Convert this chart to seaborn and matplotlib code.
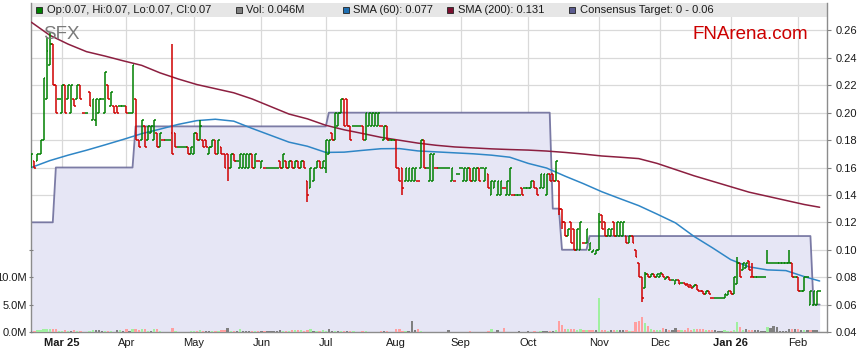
import numpy as np
import pandas as pd
import matplotlib
matplotlib.use("Agg")
import matplotlib.pyplot as plt
from matplotlib.patches import Rectangle
import seaborn as sns

# %% Data
# trading sessions shown: weekdays 17 Feb 2025 - 11 Feb 2026
dates = pd.bdate_range("2025-02-17", "2026-02-11")

# daily open / close, one line per month
opens = [
    .160, .165, .165, .170, .180, .210, .235, .250, .220, .210,
    .200, .220, .210, .200, .210, .210, .220, .200, .200, .215, .195, .195, .200, .210, .200, .220, .205, .205, .205, .205, .205,
    .205, .200, .200, .210, .180, .180, .190, .180, .185, .180, .185, .175, .180, .180, .180, .185, .185, .175, .175, .175, .175, .170,
    .170, .185, .180, .180, .180, .170, .175, .180, .170, .175, .170, .170, .160, .170, .165, .160, .160, .160, .160, .170, .160, .165,
    .160, .160, .160, .160, .160, .160, .165, .160, .165, .160, .165, .160, .165, .160, .165, .150, .145, .150, .160, .165, .160,
    .160, .170, .185, .180, .190, .200, .210, .210, .190, .190, .190, .190, .190, .180, .190, .190, .190, .190, .190, .180, .190, .180, .180,
    .180, .160, .160, .150, .150, .150, .150, .150, .160, .180, .160, .150, .150, .160, .160, .160, .160, .160, .150, .150, .155,
    .160, .150, .150, .160, .150, .150, .160, .160, .150, .155, .140, .145, .140, .140, .145, .140, .140, .140, .140, .140, .145, .145,
    .145, .145, .150, .145, .145, .145, .140, .155, .155, .150, .150, .130, .120, .110, .120, .115, .100, .100, .105, .105, .100, .098, .097,
    .100, .125, .120, .110, .110, .120, .110, .110, .110, .110, .105, .110, .100, .090, .080, .072, .082, .080, .082, .080,
    .080, .082, .079, .080, .078, .075, .078, .076, .076, .075, .074, .073, .074, .070, .070, .068, .070, .065, .065, .065, .065, .065, .067,
    .070, .068, .075, .090, .085, .087, .092, .080, .080, .080, .080, .080, .090, .090, .090, .090, .090, .090, .090, .090, .090, .080,
    .080, .070, .070, .080, .060, .060, .060, .070,
]
closes = [
    .170, .160, .170, .180, .225, .245, .250, .220, .200, .210,
    .220, .200, .220, .220, .205, .220, .210, .200, .200, .205, .210, .210, .210, .210, .230, .210, .215, .200, .200, .205, .205,
    .200, .200, .235, .180, .175, .195, .175, .190, .190, .195, .175, .185, .180, .180, .180, .170, .175, .175, .175, .175, .170, .175,
    .185, .180, .190, .175, .175, .175, .180, .170, .180, .170, .160, .160, .170, .165, .165, .170, .170, .170, .170, .160, .170, .165,
    .165, .160, .160, .160, .160, .160, .160, .170, .160, .165, .160, .165, .160, .165, .160, .140, .160, .160, .165, .160, .165,
    .180, .180, .180, .200, .200, .210, .190, .190, .180, .190, .190, .190, .180, .200, .200, .200, .200, .200, .190, .190, .180, .180, .180,
    .160, .150, .145, .160, .160, .160, .160, .150, .180, .160, .160, .170, .170, .160, .160, .160, .160, .160, .160, .150, .155,
    .160, .160, .160, .150, .160, .160, .150, .160, .160, .145, .150, .150, .150, .150, .145, .150, .160, .140, .140, .140, .140, .145,
    .145, .150, .145, .140, .155, .155, .155, .150, .150, .165, .130, .120, .110, .115, .105, .100, .115, .120, .105, .115, .105, .100, .100,
    .120, .115, .110, .115, .115, .110, .120, .120, .120, .105, .110, .105, .095, .080, .065, .082, .080, .082, .080, .082,
    .083, .080, .080, .078, .078, .078, .075, .076, .074, .073, .072, .074, .071, .070, .068, .070, .068, .065, .065, .065, .065, .068, .070,
    .068, .080, .090, .080, .090, .090, .085, .080, .080, .080, .080, .080, .090, .090, .090, .090, .090, .090, .090, .090, .080, .080,
    .070, .070, .080, .080, .070, .070, .070, .070,
]
# sessions whose high / low reach beyond open and close
high_wicks = {5: .255, 6: .258, 46: .250, 55: .195, 185: .127, 200: .084,
              230: .095, 235: .090, 240: .100, 247: .100}
low_wicks = {21: .190, 64: .150, 90: .135, 96: .156, 121: .140, 172: .125,
             173: .115, 199: .062}

# daily volume, millions of shares
volume = [
    .2, .1, .3, .4, .6, .5, .5, .5, .5, .2,
    .1, .3, .1, .1, .3, .2, .1, 0, 0, .1, .3, .3, .3, .1, .2, .1, .1, 0, .3, .3, .1,
    .6, .1, .6, .5, .4, .5, .5, .2, .1, .5, .5, .1, 0, 0, 0, .8, .1, 0, 0, 0, 0, .1,
    .1, .1, .4, .1, .2, .2, .2, .1, .1, .3, .3, .8, .2, .2, .1, .5, .2, .2, .2, .2, .2, .1,
    .1, .2, .1, .2, .1, .1, .4, .1, .2, .1, .4, .4, .3, .3, .1, .4, .5, .1, .2, .2, .4,
    .2, .5, .2, .2, .2, .2, .1, .2, .2, .1, 0, 0, .1, .1, 0, 0, 0, 0, .2, .2, .2, 0, 0,
    .5, .5, .2, .2, .2, 2.0, .3, .5, .2, 0, 0, 0, 0, 0, 0, 0, 0, .3, 0, 0, 0,
    0, 0, 0, .1, 0, 0, 0, 0, 0, .2, .5, 0, .3, 0, .7, 0, 0, 0, 0, .2, 0, 0,
    .2, 0, .2, 0, .2, .2, .2, .2, .2, .3, 2.0, 1.3, .5, .5, .5, .6, .4, .5, .3, .3, .3, .3, .3,
    6.2, .3, .3, .2, .4, .3, .3, .3, .3, .3, .2, .2, 1.8, 2.0, 2.7, 1.6, 1.1, .5, .3, .3,
    .3, .7, .5, .3, .3, .7, .4, .4, .4, .7, .3, .6, .6, .6, .6, .3, .3, .3, .3, .2, .2, .3, .2,
    .2, .3, 1.8, .9, .3, .5, .3, .3, .3, .3, .2, .2, .9, .7, 1.1, 1.0, .2, .2, .2, .5, .5, .5,
    .5, .3, .3, .3, .3, .3, .3, .046,
]

# consensus target: value from each change date onwards
target_dates = ["2025-02-17", "2025-02-27", "2025-04-04", "2025-07-02",
                "2025-10-13", "2025-10-16", "2025-10-29", "2026-02-09"]
target_values = [0.12, 0.16, 0.19, 0.20, 0.13, 0.10, 0.11, 0.06]

# moving averages, read every 6th session (plus the last one)
sma60 = [.160, .165, .169, .1726, .1765, .1805, .1847, .188, .1915, .1942, .1952,
         .1938, .1885, .1835, .1785, .1755, .171, .1712, .1725, .1737, .1738, .1721,
         .1714, .1707, .170, .169, .1675, .163, .1596, .1537, .1482, .1423, .1372,
         .1322, .126, .1196, .1098, .1015, .0928, .0875, .0853, .0848, .0804, .0772]
sma200 = [.266, .2565, .250, .2445, .2413, .2378, .2345, .229, .2245, .2205, .2175,
          .2145, .210, .2045, .199, .1955, .1908, .1875, .1848, .182, .1799, .1778,
          .1762, .175, .1743, .1736, .1731, .1727, .172, .171, .1698, .1684, .1675,
          .1665, .163, .1585, .154, .150, .146, .142, .139, .136, .133, .131]

# %% Prepare
x = np.arange(len(dates))
o = np.array(opens)
c = np.array(closes)
hi = np.maximum(o, c)
lo = np.minimum(o, c)
for k, v in high_wicks.items():
    hi[k] = max(hi[k], v)
for k, v in low_wicks.items():
    lo[k] = min(lo[k], v)

prev = np.r_[c[0], c[:-1]]
up = np.where(c > o, True, np.where(c < o, False, c >= prev))
bar_cols = np.where(up, "#008000", "#d00000")
vol_cols = np.where(c > prev, "#a0f0a0", np.where(c < prev, "#ff9fa0", "#808080"))

target = (pd.Series(target_values, index=pd.to_datetime(target_dates))
          .reindex(dates, method="ffill"))

sma_x = np.r_[np.arange(0, len(dates), 6), len(dates) - 1]

# %% Plot
sns.set_style("white")
plt.rcParams["font.family"] = ["Liberation Sans", "DejaVu Sans"]

W, H = 859, 363
fig = plt.figure(figsize=(W / 100, H / 100), dpi=100)
ax = fig.add_axes([31 / W, 31 / H, 796 / W, 329 / H])
ax_v = ax.twinx()   # volume scale, drawn over the price panel
ax.set_xlim(-0.1, 259.4)
ax.set_ylim(0.04, 0.28)
ax.set_axisbelow(True)

# month ticks at first session of each month
first = np.r_[0, np.flatnonzero(np.diff(dates.month) != 0) + 1][1:]
labels = [d.strftime("%b %y") if (i == 0 or d.month == 1) else d.strftime("%b")
          for i, d in enumerate(dates[first])]
ax.set_xticks(x[first])
ax.set_xticklabels(labels)
for t, lab in zip(ax.get_xticklabels(), labels):
    if " " in lab:
        t.set_fontweight("bold")

ax.set_yticks(np.arange(0.04, 0.2601, 0.02))
ax.yaxis.set_major_formatter(matplotlib.ticker.FormatStrFormatter("%.2f"))
ax.grid(True, color="#d9d9d9", lw=0.9)

ax.tick_params(axis="x", length=2.5, width=0.8, color="#808080", pad=2,
               labelsize=8, labelcolor="#1a1a1a")
ax.tick_params(axis="y", left=False, labelleft=False, right=True, labelright=True,
               length=3, width=0.8, color="#808080", pad=3,
               labelsize=8, labelcolor="#1a1a1a")
for s in ["left", "right", "bottom"]:
    ax.spines[s].set_color("#8c8c8c")
    ax.spines[s].set_linewidth(1.0)
ax.spines["top"].set_visible(False)

# header band (covers the grid)
ax.add_patch(Rectangle((0, 315 / 329), 1, 14 / 329, transform=ax.transAxes,
                       facecolor="#e6e6e6", edgecolor="none", zorder=0.7))

# consensus target area
ax.fill_between(x, 0.04, target.values, color="#e6e6f5", lw=0, zorder=1)
sns.lineplot(x=x, y=target.values, ax=ax, color="#6e6e9c", lw=1.3,
             alpha=0.9, zorder=2)

# moving averages
sns.lineplot(x=sma_x, y=sma200, ax=ax, color="#8c1f40", lw=1.1, zorder=3)
sns.lineplot(x=sma_x, y=sma60, ax=ax, color="#2f86c6", lw=1.1, zorder=3)

# OHLC bars
ax.vlines(x, lo, hi, colors=bar_cols, lw=1.1, zorder=4)
ax.hlines(o, x - 0.6, x, colors=bar_cols, lw=1.1, zorder=4)
ax.hlines(c, x, x + 0.6, colors=bar_cols, lw=1.1, zorder=4)
ax.set_xlabel("")
ax.set_ylabel("")

# volume on the left scale
ax_v.set_ylim(0, 60)
ax_v.bar(x, volume, width=0.75, color=vol_cols, lw=0, zorder=2)
ax_v.set_yticks([0, 5, 10, 15])
ax_v.set_yticklabels(["0.0M", "5.0M", "10.0M", ""])
ax_v.tick_params(axis="y", left=True, labelleft=True, right=False, labelright=False,
                 direction="inout", length=3.5, width=0.8,
                 color="#808080", pad=1, labelsize=8, labelcolor="#1a1a1a")
for s in ax_v.spines.values():
    s.set_visible(False)

# legend strip
items = [(36, 47, "#008000", "Op:0.07, Hi:0.07, Lo:0.07, Cl:0.07"),
         (236, 246, "#808080", "Vol: 0.046M"),
         (343, 353, "#1f6fb2", "SMA (60): 0.077"),
         (447, 458, "#7b0f2f", "SMA (200): 0.131"),
         (569, 580, "#5b5b8f", "Consensus Target: 0 - 0.06")]
for sx, tx, col, txt in items:
    fig.patches.append(Rectangle((sx / W, 1 - 13.3 / H), 6 / W, 6 / H,
                                 transform=fig.transFigure, facecolor=col,
                                 edgecolor="#222222", lw=0.6))
    fig.text(tx / W, 1 - 10.3 / H, txt, fontsize=8, va="center", color="#1a1a1a")

fig.text(43 / W, 1 - 39 / H, "SFX", fontsize=13.5, color="#7a7a7a", va="baseline")
fig.text(693 / W, 1 - 39 / H, "FNArena.com", fontsize=13.5, color="#cc0000",
         va="baseline")

fig.savefig("out.png", dpi=100)
